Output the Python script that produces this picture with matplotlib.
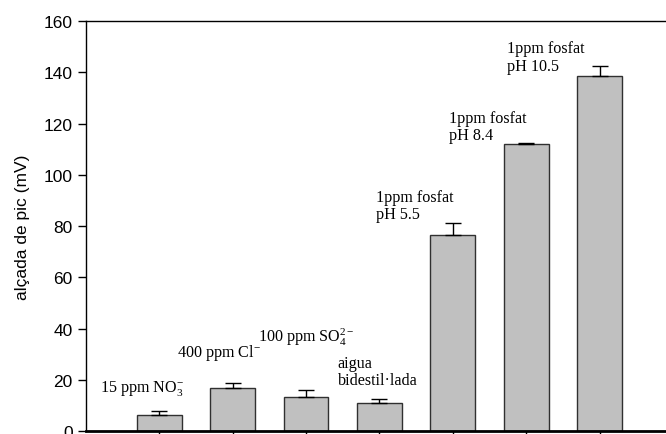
import matplotlib
matplotlib.use("Agg")
import matplotlib.pyplot as plt

# data
positions = [1, 2, 3, 4, 5, 6, 7]
values = [6.4, 16.8, 13.3, 11.0, 76.7, 111.9, 138.7]
errors = [1.4, 2.2, 3.0, 1.5, 4.5, 0.6, 3.6]
labels = ['15 ppm NO$_3^{-}$', '400 ppm Cl$^{-}$', '100 ppm SO$_4^{2-}$',
          'aigua\nbidestil\u00b7lada', '1ppm fosfat\npH 5.5',
          '1ppm fosfat\npH 8.4', '1ppm fosfat\npH 10.5']
label_x = [0.19, 1.24, 2.35, 3.43, 3.95, 4.95, 5.74]
label_y = [17, 31, 37, 23.5, 88, 119, 146]
yticks = [0, 20, 40, 60, 80, 100, 120, 140, 160]

plt.rcParams['mathtext.fontset'] = 'custom'
plt.rcParams['mathtext.rm'] = 'Liberation Serif'
plt.rcParams['mathtext.it'] = 'Liberation Serif:italic'
plt.rcParams['mathtext.default'] = 'regular'

fig = plt.figure(figsize=(6.66, 4.35), dpi=100)
ax = fig.add_axes([0.1291, 0.006, 0.8814, 0.9434])

ax.bar(positions, values, width=0.61, color='#c0c0c0', edgecolor='#303030',
       linewidth=1.0, zorder=2)
ax.errorbar(positions, values, yerr=[[0]*len(errors), errors], fmt='none',
            ecolor='black', elinewidth=1.0, capsize=6, capthick=1.0, zorder=3)

for x, y, t in zip(label_x, label_y, labels):
    ax.text(x, y, t, family='Liberation Serif', fontsize=11.6, ha='left',
            va='center', linespacing=1.1)

ax.set_xlim(0, 8)
ax.set_ylim(0, 160)
ax.set_xticks(positions)
ax.set_xticklabels([])
ax.set_yticks(yticks)
ax.set_yticklabels([str(v) for v in yticks], family='Liberation Sans', fontsize=12.5)
ax.tick_params(axis='both', direction='out', length=6, width=1.0, colors='black')
ax.set_ylabel('alçada de pic (mV)', family='Liberation Sans', fontsize=12.5, labelpad=10)

for s in ['left', 'top', 'right']:
    ax.spines[s].set_linewidth(1.0)
ax.spines['bottom'].set_linewidth(2.0)

fig.savefig('out.png', dpi=100)
